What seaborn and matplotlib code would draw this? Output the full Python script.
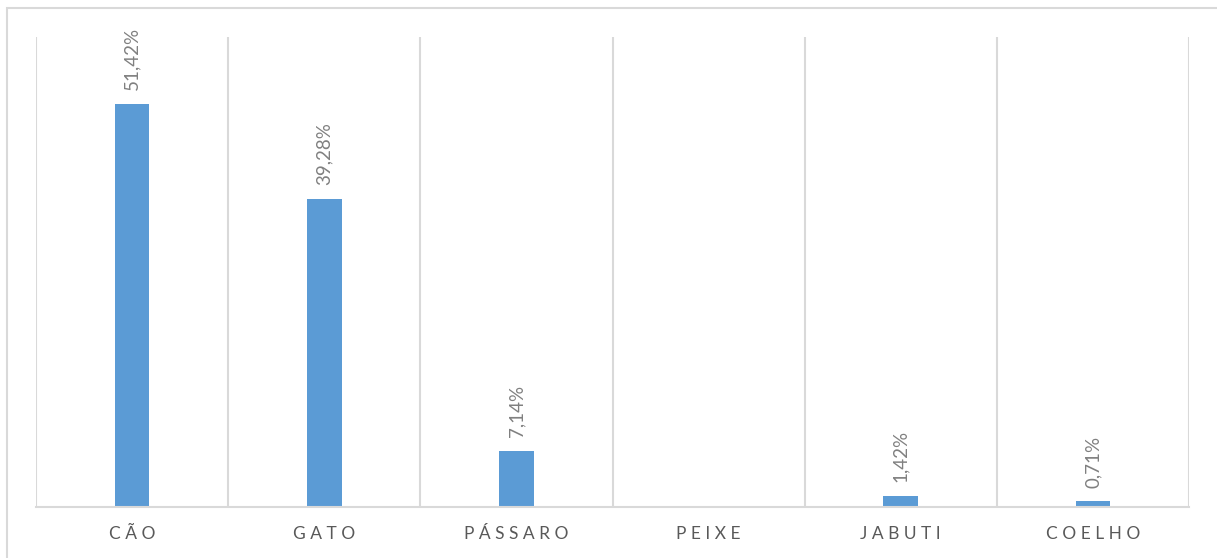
import matplotlib
matplotlib.use("Agg")
import matplotlib.pyplot as plt
import seaborn as sns
import pandas as pd
from matplotlib.patches import Rectangle

categories = ["CÃO", "GATO", "PÁSSARO", "PEIXE", "JABUTI", "COELHO"]
values = [51.42, 39.28, 7.14, 0.0, 1.42, 0.71]

sns.set_theme(style="white")
plt.rcParams['font.family'] = ['Lato', 'DejaVu Sans']

df = pd.DataFrame({"cat": categories, "val": values})

fig = plt.figure(figsize=(12.17, 5.58), dpi=100)
ax = fig.add_axes([36/1217, 51/558, (1189-36)/1217, (507-37)/558])

sns.barplot(data=df, x="cat", y="val", ax=ax, color="#5B9BD5", width=0.18,
            saturation=1, edgecolor="none")

ax.set_ylim(0, 60)
ax.set_xlim(-0.5, len(categories) - 0.5)
ax.set_yticks([])
ax.set_xlabel("")
ax.set_ylabel("")
for s in ["left", "right", "top"]:
    ax.spines[s].set_visible(False)
ax.spines["bottom"].set_color("#d9d9d9")
ax.spines["bottom"].set_linewidth(1.5)

ax.set_xticks(range(len(categories)))
ax.set_xticklabels([" ".join(c) for c in categories], fontsize=12.5, color="#595959")
ax.tick_params(axis="x", length=0, pad=14)
ax.set_xticks([i - 0.5 for i in range(len(categories) + 1)], minor=True)
ax.grid(True, which="minor", axis="x", color="#d9d9d9", linewidth=1.5)
ax.grid(False, which="major")
ax.tick_params(axis="x", which="minor", length=0)

for i, v in enumerate(values):
    if v > 0:
        ax.annotate(f"{v:.2f}%".replace(".", ","), (i, v), xytext=(0, 10),
                    textcoords="offset points", rotation=90, ha="center", va="bottom",
                    fontsize=13.5, color="#808080")

fig.patches.append(Rectangle((7/1217, -0.1), 1.2, (558-8)/558 + 0.1, transform=fig.transFigure,
                             fill=False, edgecolor="#d9d9d9", linewidth=1.5))

fig.savefig("out.png", dpi=100)
